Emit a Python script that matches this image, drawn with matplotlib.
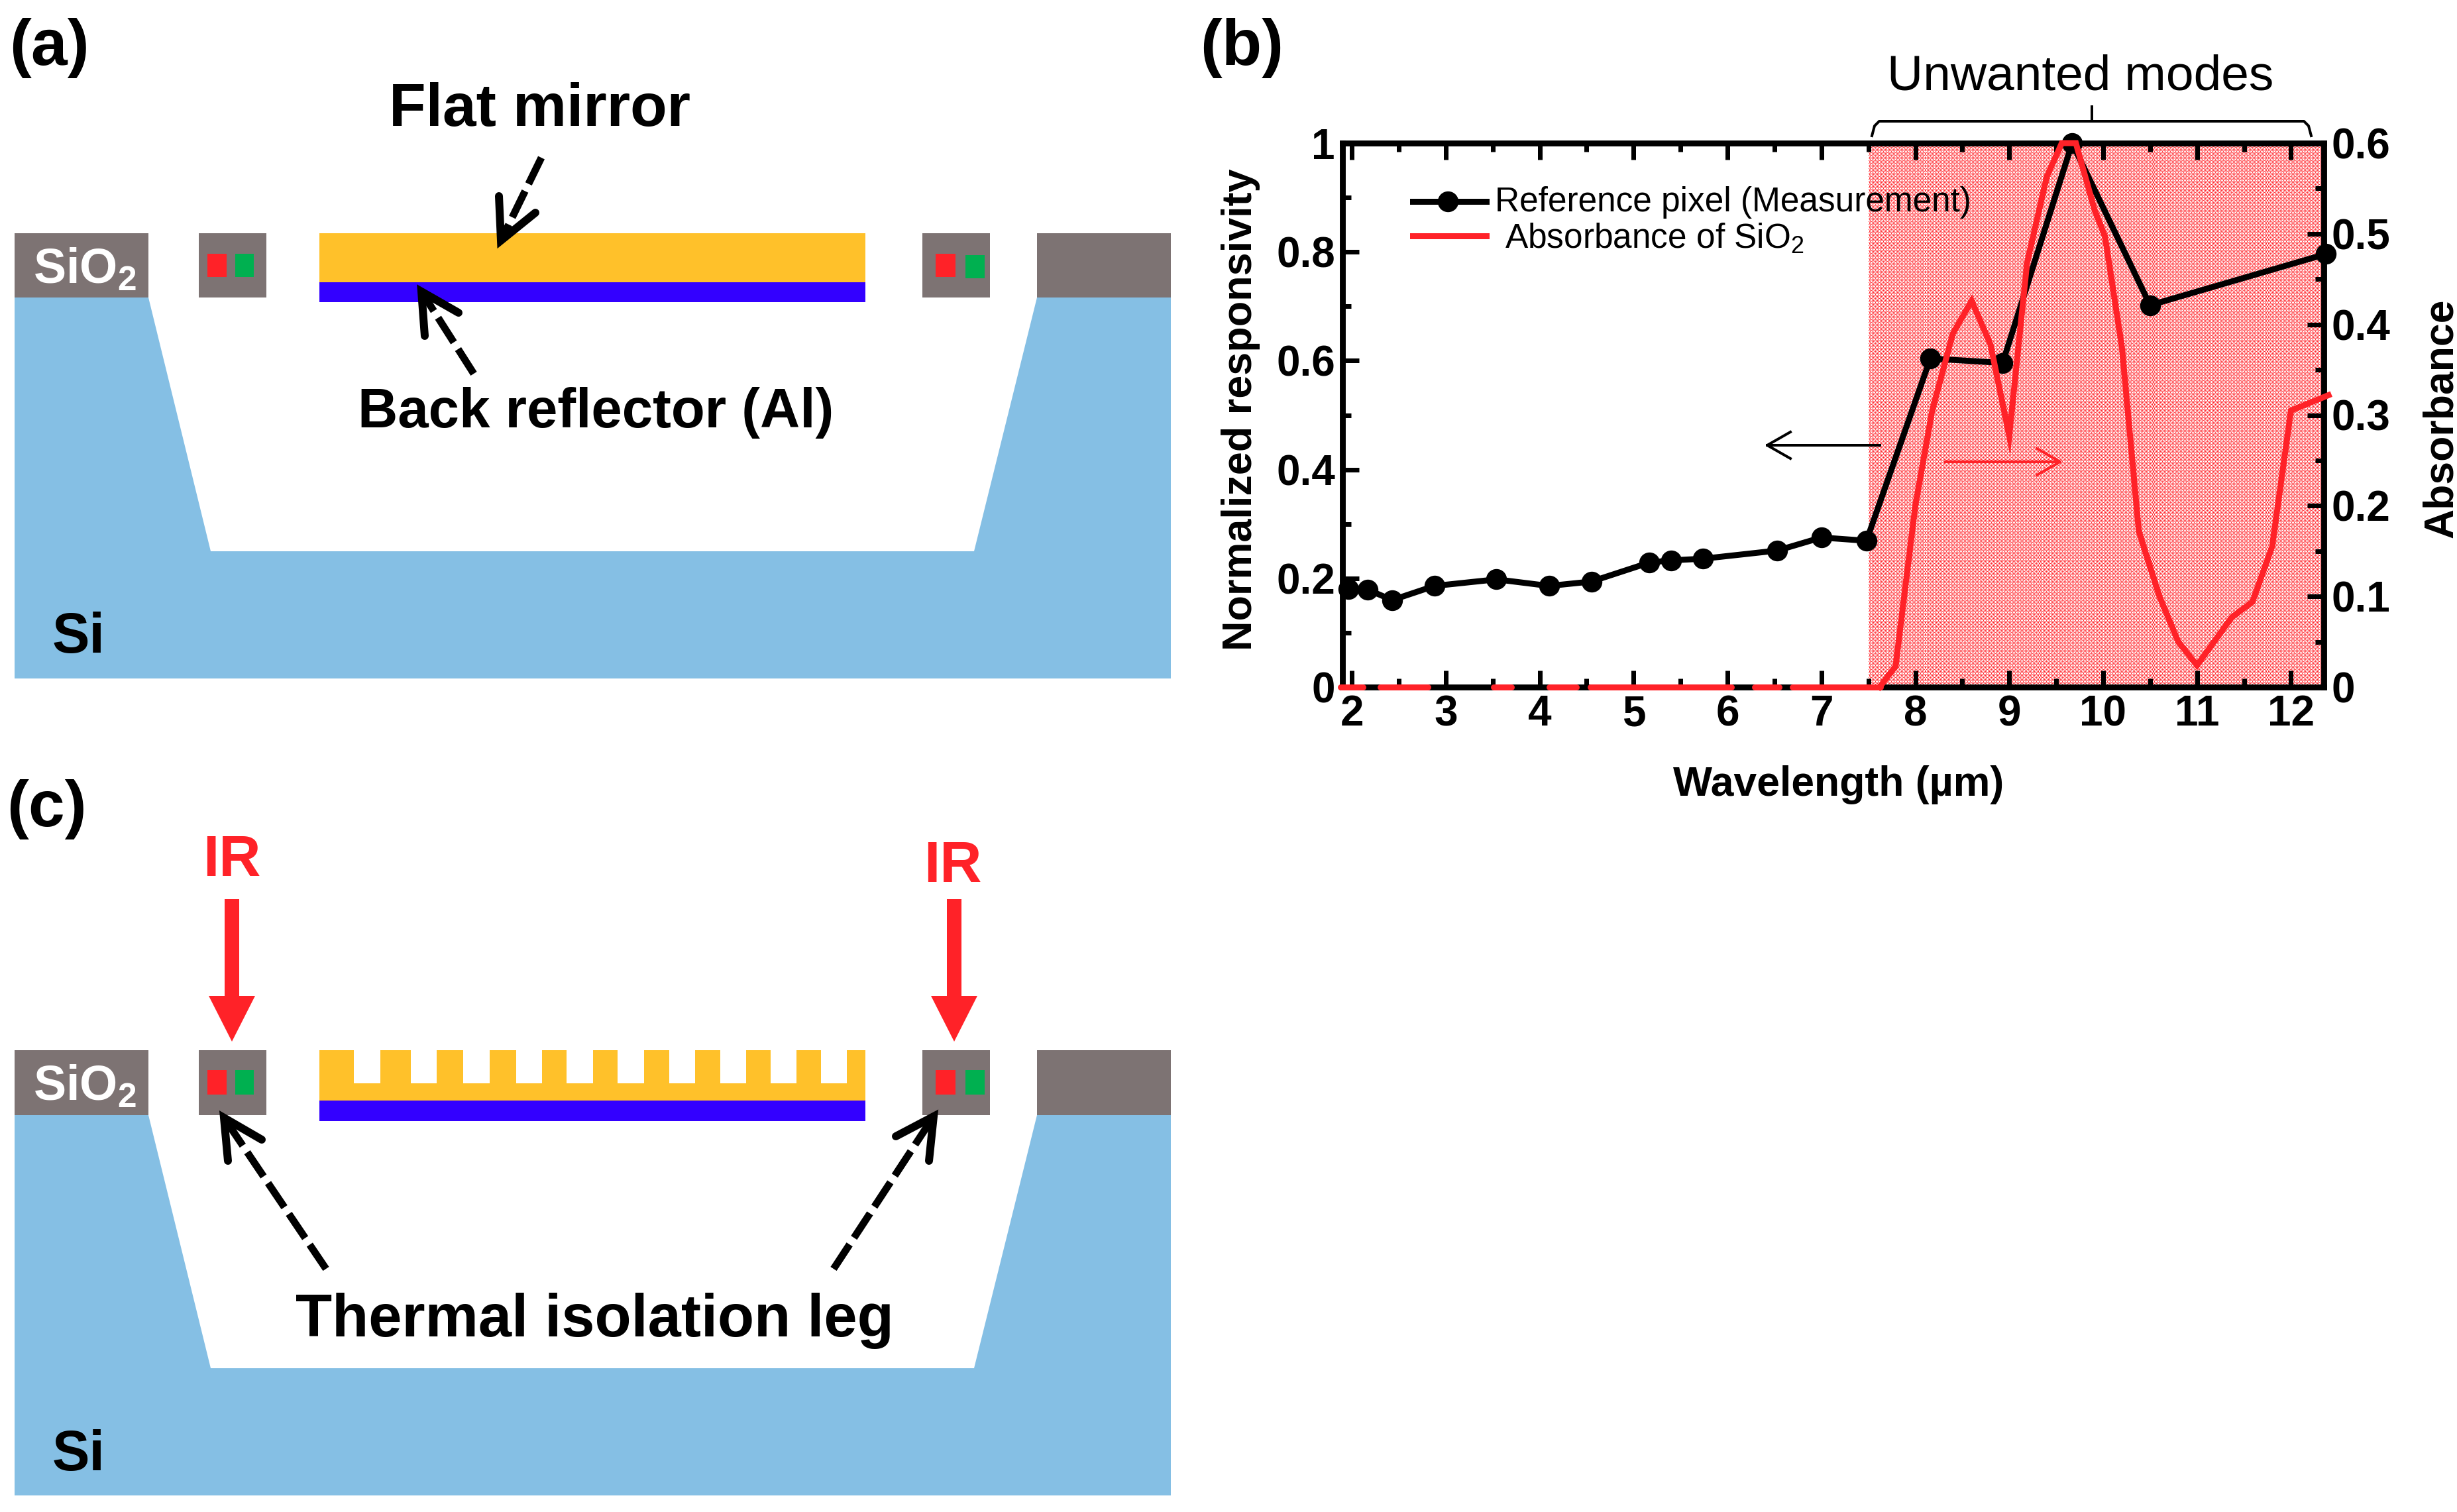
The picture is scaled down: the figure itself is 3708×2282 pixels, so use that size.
import matplotlib
matplotlib.use("Agg")
import matplotlib.pyplot as plt
import numpy as np
from matplotlib.patches import Polygon, Rectangle

plt.rcParams['font.family'] = ['Liberation Sans', 'DejaVu Sans']
plt.rcParams['mathtext.default'] = 'regular'

W, H = 3708, 2282
DPI = 100
PX = 72 / DPI  # one picture pixel in points

# panel (b) data
ref_wavelength = [1.96, 2.17, 2.43, 2.88, 3.54, 4.10, 4.55, 5.17, 5.40, 5.74,
                  6.53, 7.00, 7.48, 8.16, 8.93, 9.67, 10.50, 12.37]
ref_response = [0.180, 0.179, 0.160, 0.186, 0.198, 0.186, 0.194, 0.229, 0.233, 0.236,
                0.251, 0.275, 0.269, 0.604, 0.596, 1.000, 0.702, 0.796]
sio2_wavelength = [7.62, 7.79, 8.00, 8.18, 8.40, 8.60, 8.80, 9.00, 9.19, 9.40, 9.56,
                   9.71, 9.91, 10.02, 10.20, 10.38, 10.60, 10.80, 11.00, 11.37,
                   11.59, 11.80, 12.00, 12.40]
sio2_absorbance = [0.0, 0.023, 0.200, 0.305, 0.390, 0.426, 0.378, 0.277, 0.468, 0.563, 0.600,
                   0.600, 0.526, 0.497, 0.375, 0.172, 0.100, 0.050, 0.024, 0.077,
                   0.094, 0.155, 0.305, 0.322]
# where the absorbance line shows along the zero axis
sio2_zero_start = [1.88, 2.30, 3.51, 4.10, 4.54, 6.29, 6.69]
sio2_zero_end = [2.12, 2.81, 3.70, 4.39, 6.04, 6.55, 7.63]
x_ticks = [2, 3, 4, 5, 6, 7, 8, 9, 10, 11, 12]
left_ticks = [0, 0.2, 0.4, 0.6, 0.8, 1]
left_labels = ['0', '0.2', '0.4', '0.6', '0.8', '1']
right_ticks = [0, 0.1, 0.2, 0.3, 0.4, 0.5, 0.6]
right_labels = ['0', '0.1', '0.2', '0.3', '0.4', '0.5', '0.6']
unwanted_start = 7.5

# schematic geometry, in picture pixels
tooth_left = [482, 574, 659, 739, 818, 895, 972, 1049, 1126, 1202, 1278]
tooth_right = [534, 620, 699, 779, 855, 932, 1010, 1087, 1163, 1239, 1306]

GRAY = '#7d7373'
SI = '#85bfe4'
GOLD = '#ffc12a'
BLUE = '#3300ff'
RED = '#ff2228'
GREEN = '#00b050'

fig = plt.figure(figsize=(W / DPI, H / DPI), dpi=DPI, facecolor='white')

# ---- chart (b)
ax_l, ax_r, ax_t, ax_b = 2026, 3507, 216, 1037
ax = fig.add_axes([ax_l / W, 1 - ax_b / H, (ax_r - ax_l) / W, (ax_b - ax_t) / H])

# the red band is a one-pixel dither of red on white
rows, cols = np.indices((ax_b - ax_t, 692))
dither = ((rows + cols) % 2 == 0) & ~((rows % 4 == 0) & (cols % 4 == 0))
band = np.ones(dither.shape + (3,))
band[dither] = matplotlib.colors.to_rgb(RED)
ax.imshow(band, extent=[unwanted_start, 12.35, 0, 1], aspect='auto',
          interpolation='nearest', zorder=0)
ax.set_xlim(1.9, 12.35)
ax.set_ylim(0, 1)

ax.plot(ref_wavelength, ref_response, color='black', lw=9 * PX, marker='o', ms=30 * PX,
        clip_on=False, zorder=5)
ax.set_xticks(x_ticks)
ax.set_xticks([v + 0.5 for v in x_ticks[:-1]], minor=True)
ax.set_yticks(left_ticks)
ax.set_yticklabels(left_labels)
ax.set_yticks([0.1, 0.3, 0.5, 0.7, 0.9], minor=True)
ax.tick_params(axis='both', which='major', direction='in', length=25 * PX, width=7 * PX,
               top=True, labelsize=46, pad=8)
ax.tick_params(axis='both', which='minor', direction='in', length=13 * PX, width=7 * PX, top=True)
for lab in ax.get_xticklabels() + ax.get_yticklabels():
    lab.set_fontweight('bold')

ax2 = ax.twinx()
ax2.set_ylim(0, 0.6)
ax2.plot(sio2_wavelength, sio2_absorbance, color=RED, lw=9 * PX, clip_on=False, zorder=6,
         solid_joinstyle='miter')
for x0, x1 in zip(sio2_zero_start, sio2_zero_end):
    ax2.plot([x0, x1], [0, 0], color=RED, lw=9 * PX, clip_on=False, zorder=6,
             solid_capstyle='round')
ax2.set_yticks(right_ticks)
ax2.set_yticklabels(right_labels, fontweight='bold')
ax2.set_yticks([0.05, 0.15, 0.25, 0.35, 0.45, 0.55], minor=True)
ax2.tick_params(axis='y', which='major', direction='in', length=25 * PX, width=7 * PX,
                labelsize=46, pad=8)
ax2.tick_params(axis='y', which='minor', direction='in', length=13 * PX, width=7 * PX)
for a in (ax, ax2):
    for s in a.spines.values():
        s.set_linewidth(8.5 * PX)

# ---- everything else goes on a full-figure axes in picture pixels
ov = fig.add_axes([0, 0, 1, 1], zorder=10)
ov.set_xlim(0, W)
ov.set_ylim(H, 0)
ov.axis('off')


def box(x0, y0, x1, y1, color):
    ov.add_patch(Rectangle((x0, y0), x1 - x0, y1 - y0, color=color, lw=0))


def dashed_arrow(start, tip, arm1, arm2):
    ov.plot([start[0], tip[0]], [start[1], tip[1]], color='black', lw=11 * PX,
            linestyle=(0, (4.0, 1.1)), dash_capstyle='butt')
    ov.plot([arm1[0], tip[0], arm2[0]], [arm1[1], tip[1], arm2[1]], color='black', lw=12 * PX,
            solid_joinstyle='miter', solid_capstyle='round')


def thin_arrow(x_from, x_to, y, color):
    d = 35 if x_to > x_from else -35
    ov.plot([x_from, x_to], [y, y], color=color, lw=4 * PX)
    ov.plot([x_to - d, x_to, x_to - d], [y - 20, y, y + 20], color=color, lw=4 * PX)


def device(top, bottom, floor, base):
    ov.add_patch(Polygon([(22, bottom), (224, bottom), (318, floor), (1470, floor),
                          (1565, bottom), (1767, bottom), (1767, base), (22, base)],
                         closed=True, color=SI, lw=0))
    box(22, top, 224, bottom, GRAY)
    box(300, top, 402, bottom, GRAY)
    box(1392, top, 1494, bottom, GRAY)
    box(1565, top, 1767, bottom, GRAY)


# (a)
device(352, 449, 832, 1024)
box(482, 352, 1306, 426, GOLD)
box(482, 426, 1306, 456, BLUE)
box(313, 383, 342, 418, RED)
box(355, 383, 383, 418, GREEN)
box(1412, 383, 1442, 418, RED)
box(1457, 385, 1486, 420, GREEN)
dashed_arrow((817, 238), (756, 363), (753, 296), (808, 321))
dashed_arrow((715, 564), (636, 440), (641, 507), (692, 472))

# (c)
device(1585, 1683, 2065, 2257)
box(482, 1635, 1306, 1661, GOLD)
for x0, x1 in zip(tooth_left, tooth_right):
    box(x0, 1585, x1, 1636, GOLD)
box(482, 1661, 1306, 1692, BLUE)
box(313, 1615, 342, 1652, RED)
box(355, 1615, 383, 1652, GREEN)
box(1412, 1615, 1442, 1652, RED)
box(1457, 1615, 1486, 1652, GREEN)
for cx in (350, 1440):
    ov.add_patch(Polygon([(cx - 11, 1357), (cx + 11, 1357), (cx + 11, 1503), (cx + 35, 1503),
                          (cx, 1572), (cx - 35, 1503), (cx - 11, 1503)],
                         closed=True, color=RED, lw=0))
dashed_arrow((492, 1915), (338, 1687), (395, 1720), (344, 1752))
dashed_arrow((1258, 1915), (1409, 1685), (1352, 1715), (1402, 1752))

# panel letters and labels
bold = dict(fontweight='bold', color='black', va='baseline', ha='left')
ov.text(14, 98, '(a)', fontsize=71, **bold)
ov.text(1811, 98, '(b)', fontsize=71, **bold)
ov.text(10, 1247, '(c)', fontsize=71, **bold)
ov.text(587, 190, 'Flat mirror', fontsize=65.5, **bold)
ov.text(540, 645, 'Back reflector (Al)', fontsize=60, **bold)
ov.text(446, 2017, 'Thermal isolation leg', fontsize=65, **bold)
ov.text(79, 985, 'Si', fontsize=61, **bold)
ov.text(79, 2219, 'Si', fontsize=61, **bold)
ov.text(50, 427, 'SiO$_2$', fontsize=53, fontweight='bold', color='white', va='baseline')
ov.text(50, 1660, 'SiO$_2$', fontsize=53, fontweight='bold', color='white', va='baseline')
ov.text(350, 1322, 'IR', fontsize=63, fontweight='bold', color=RED, ha='center', va='baseline')
ov.text(1438, 1331, 'IR', fontsize=63, fontweight='bold', color=RED, ha='center', va='baseline')

# labels of (b)
ov.text(2775, 1184, 'Wavelength (µm)', fontsize=45, fontweight='bold', ha='center', va='center')
ov.text(1873, 618, 'Normalized responsivity', fontsize=45.3, fontweight='bold', rotation=90,
        ha='center', va='center')
ov.text(3684, 631, 'Absorbance', fontsize=45, fontweight='bold', rotation=90,
        ha='center', va='center')
ov.text(3140, 135, 'Unwanted modes', fontsize=54, ha='center', va='baseline')
ov.plot([2825, 2829, 2836, 3477, 3484, 3488], [205, 190, 183, 183, 190, 205], color='black', lw=4 * PX)
ov.plot([3157, 3157], [161, 183], color='black', lw=4 * PX)

# legend of (b)
ov.plot([2132, 2243], [304, 304], color='black', lw=9 * PX)
ov.plot([2185], [304], marker='o', ms=30 * PX, color='black')
ov.text(2256, 306, 'Reference pixel (Measurement)', fontsize=37, va='center')
ov.plot([2132, 2243], [356, 356], color=RED, lw=9 * PX)
ov.text(2271, 375, 'Absorbance of SiO$_2$', fontsize=37, va='baseline')

thin_arrow(2837, 2667, 672, 'black')
thin_arrow(2936, 3109, 697, RED)

fig.savefig('out.png', dpi=DPI, facecolor='white')
